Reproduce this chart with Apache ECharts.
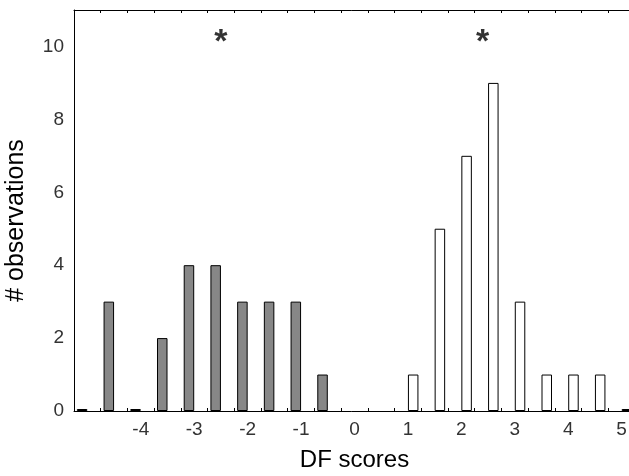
<!DOCTYPE html>
<html>
<head>
<meta charset="utf-8">
<script src="https://cdn.jsdelivr.net/npm/echarts@6/dist/echarts.min.js"></script>
<style>html,body{margin:0;padding:0;background:#fff;}#c{width:629px;height:476px;}</style>
</head>
<body>
<div id="c"></div>
<script>
// Bin centres (DF score), one bar pair per bin
const categories = ['-5','-4.5','-4','-3.5','-3','-2.5','-2','-1.5','-1','-0.5','0','0.5','1','1.5','2','2.5','3','3.5','4','4.5','5'];
// Group 1 (hatched grey bars)
const groupGrey = [0, 3, 0, 2, 4, 4, 3, 3, 3, 1, null, null, null, null, null, null, null, null, null, null, null];
// Group 2 (white bars)
const groupWhite = [null, null, null, null, null, null, null, null, null, null, null, null, 1, 5, 7, 9, 3, 1, 1, 1, 0];
// Significance markers (x in DF units, y in observations)
const starX = [-2.5, 2.4];
const starY = [10.1, 10.1];
const yTicks = [0, 2, 4, 6, 8, 10];

const FONT = 'Liberation Sans, Arial, sans-serif';
const chart = echarts.init(document.getElementById('c'), null, {renderer: 'canvas'});
chart.setOption({
  animation: false,
  backgroundColor: '#ffffff',
  grid: {left: 74, top: 10, right: -6, bottom: 65, containLabel: false, outerBoundsMode: 'none'},
  xAxis: [
    {
      type: 'category', data: categories, position: 'bottom',
      name: 'DF scores', nameLocation: 'middle', nameGap: 37,
      nameTextStyle: {fontFamily: FONT, fontSize: 24, color: '#000'},
      axisLine: {lineStyle: {color: '#000', width: 1}},
      axisTick: {show: true, inside: true, length: 3, interval: 0, lineStyle: {color: '#000'}},
      axisLabel: {
        interval: function (i) { return i > 0 && i % 2 === 0; },
        fontFamily: FONT, fontSize: 19, color: '#333', margin: 9
      },
      splitLine: {show: false}
    },
    {
      type: 'category', data: categories, position: 'top',
      axisLine: {lineStyle: {color: '#000', width: 1}},
      axisTick: {show: true, inside: true, length: 3, interval: 0, lineStyle: {color: '#000'}},
      axisLabel: {show: false}, splitLine: {show: false}
    },
    {
      type: 'value', min: -5.25, max: 5.25, show: false
    }
  ],
  yAxis: {
    type: 'value', min: 0, max: 11, interval: 2,
    name: '# observations', nameLocation: 'middle', nameGap: 45,
    nameTextStyle: {fontFamily: FONT, fontSize: 25, color: '#000', padding: [0, 20, 0, 0]},
    axisLine: {show: true, onZero: false, lineStyle: {color: '#000', width: 1}},
    axisTick: {show: false},
    axisLabel: {
      fontFamily: FONT, fontSize: 19, color: '#333', margin: 10, showMaxLabel: false,
      formatter: function (v) { return yTicks.indexOf(v) >= 0 ? String(v) : ''; }
    },
    splitLine: {show: false}
  },
  series: [
    {
      type: 'bar', xAxisIndex: 0, data: groupGrey,
      barWidth: 10.5, barGap: '0%', barMinHeight: 2,
      itemStyle: {color: '#878787', borderColor: '#000', borderWidth: 1}
    },
    {
      type: 'bar', xAxisIndex: 0, data: groupWhite,
      barWidth: 10.5, barGap: '0%', barMinHeight: 2,
      itemStyle: {color: '#ffffff', borderColor: '#000', borderWidth: 1}
    },
    {
      type: 'scatter', xAxisIndex: 2, symbol: 'circle', symbolSize: 1,
      itemStyle: {color: 'rgba(0,0,0,0)'},
      data: starX.map(function (x, i) { return [x, starY[i]]; }),
      label: {
        show: true, formatter: '*', position: 'inside',
        fontFamily: FONT, fontWeight: 'bold', fontSize: 34, color: '#000'
      }
    }
  ]
});
</script>
</body>
</html>
